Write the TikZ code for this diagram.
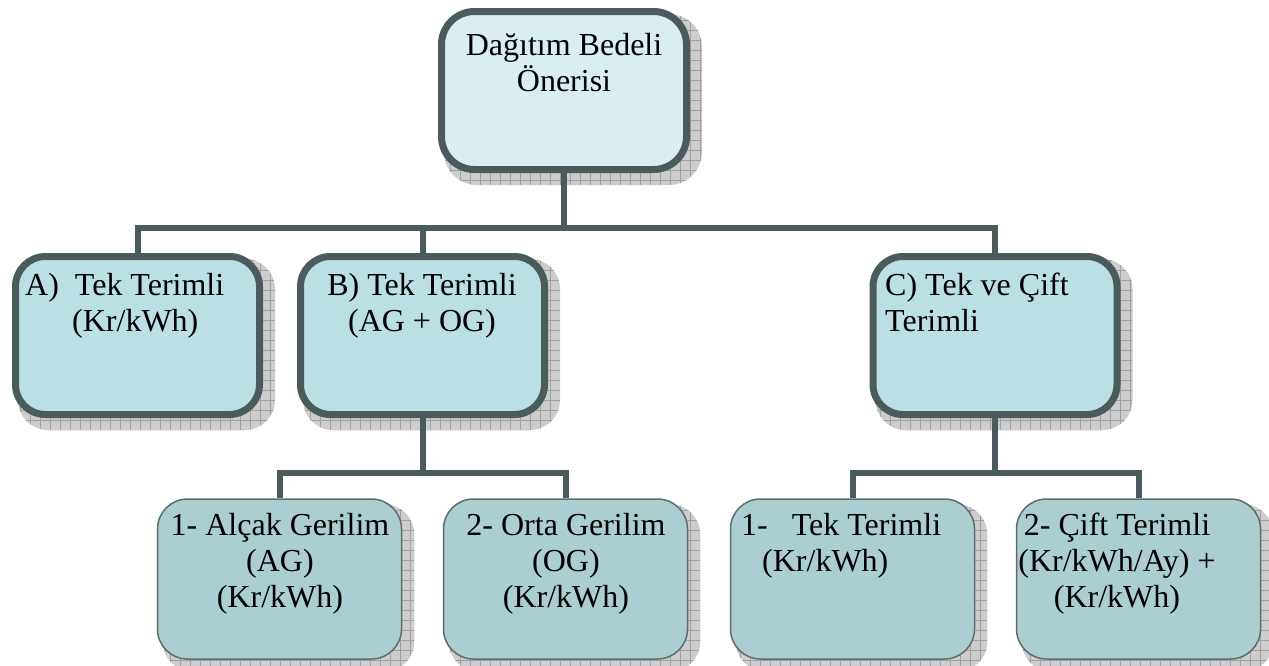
\documentclass[tikz,border=0pt]{standalone}
\usepackage{fontspec}
\setmainfont{Liberation Serif}
\pgfdeclarelayer{bg}
\pgfsetlayers{bg,main}
\definecolor{bordc}{RGB}{75,91,92}
\definecolor{lowbord}{RGB}{95,108,110}
\definecolor{topfill}{RGB}{218,238,241}
\definecolor{midfill}{RGB}{186,224,228}
\definecolor{lowfill}{RGB}{171,206,209}
\definecolor{shfill}{RGB}{205,205,205}
\definecolor{shgrid}{RGB}{160,160,160}
\newcommand\bigf{\fontsize{32}{36}\selectfont}
\newcommand\mystrut{\rule{0pt}{24pt}}
\begin{document}
\begin{tikzpicture}[x=1pt,y=-1pt,
  thickbox/.style={draw=bordc, line width=7pt, rounded corners=30pt, inner sep=0pt,
    minimum width=244pt, minimum height=158pt},
  thinbox/.style={draw=lowbord, line width=1.5pt, rounded corners=30pt, inner sep=0pt,
    fill=lowfill, minimum width=244pt, minimum height=160pt},
  txt/.style={inner sep=0pt, font=\bigf},
  conn/.style={draw=bordc, line width=6pt}]
% boxes
\node[thickbox, fill=topfill, rounded corners=33pt, minimum width=245pt] (top) at (564,90.5) {};
\node[thickbox, fill=midfill] (A) at (137.5,335.5) {};
\node[thickbox, fill=midfill] (B) at (422.5,335.5) {};
\node[thickbox, fill=midfill] (C) at (995,335.5) {};
\node[thinbox] (alcak) at (279.5,579) {};
\node[thinbox] (orta) at (565.5,579) {};
\node[thinbox] (tek) at (852.5,579) {};
\node[thinbox] (cift) at (1138.5,579) {};
% texts
\node[txt, anchor=north, align=center] (toptxt) at (564,31) {\mystrut Dağıtım Bedeli\\Önerisi};
\node[txt, anchor=north west, align=left] (Atxt) at (25,271) {\mystrut A)\ \ Tek Terimli\\\hspace*{47pt}(Kr/kWh)};
\node[txt, anchor=north, align=center] (Btxt) at (422,271) {\mystrut B) Tek Terimli\\(AG + OG)};
\node[txt, anchor=north west, align=left] (Ctxt) at (885,271) {\mystrut C) Tek ve Çift\\Terimli};
\node[txt, anchor=north, align=center] (alcaktxt) at (280,511) {\mystrut 1- Alçak Gerilim\\(AG)\\(Kr/kWh)};
\node[txt, anchor=north, align=center] (ortatxt) at (566,511) {\mystrut 2- Orta Gerilim\\(OG)\\(Kr/kWh)};
\node[txt, anchor=north west, align=left] (tektxt) at (741,511) {\mystrut 1-\ \ \ Tek Terimli\\\hspace*{21pt}(Kr/kWh)};
\node[txt, anchor=north, align=center] (cifttxt) at (1117,511) {\mystrut 2- Çift Terimli\\(Kr/kWh/Ay) +\\(Kr/kWh)};
\coordinate (bus1) at (0,228);
\coordinate (bus2) at (0,473);
\begin{pgfonlayer}{bg}
\path[fill=white, use as bounding box] (0,0) rectangle (1269,665);
\foreach \b/\r in {top/33,A/30,B/30,C/30,alcak/30,orta/30,tek/30,cift/30} {
  \fill[shfill, rounded corners=\r pt] ([shift={(6,12)}]\b.south west) rectangle ([shift={(12,6)}]\b.north east);
  \begin{scope}
    \clip[rounded corners=\r pt] ([shift={(6,12)}]\b.south west) rectangle ([shift={(12,6)}]\b.north east);
    \draw[shgrid, line width=0.5pt, step=10pt] ([shift={(6,12)}]\b.south west) grid ([shift={(12,6)}]\b.north east);
  \end{scope}
}
\draw[conn] (top.south) -- (top.south |- bus1) -| (A.north);
\draw[conn] (top.south |- bus1) -| (B.north);
\draw[conn] (top.south |- bus1) -| (C.north);
\draw[conn] (B.south) -- (B.south |- bus2) -| (alcak.north);
\draw[conn] (B.south |- bus2) -| (orta.north);
\draw[conn] (C.south) -- (C.south |- bus2) -| (tek.north);
\draw[conn] (C.south |- bus2) -| (cift.north);
\end{pgfonlayer}
\end{tikzpicture}
\end{document}
